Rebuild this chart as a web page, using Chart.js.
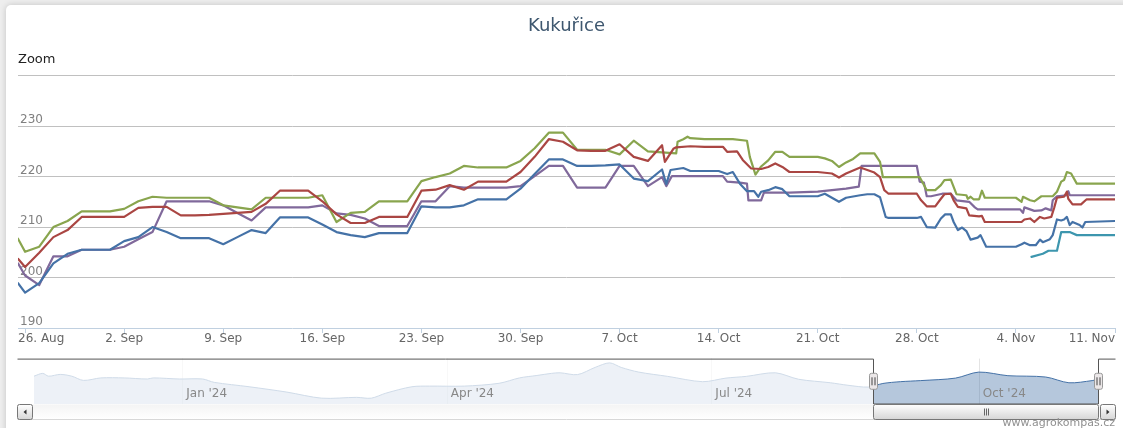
<!DOCTYPE html>
<html>
<head>
<meta charset="utf-8">
<title>Kukuřice</title>
<script src="https://cdn.jsdelivr.net/npm/chart.js@4.4.1/dist/chart.umd.min.js"></script>
<style>
  html, body { margin: 0; padding: 0; }
  body { width: 1123px; height: 428px; position: relative; overflow: hidden; background: #eeeeee; }
  #card { position: absolute; left: 6px; top: 5px; width: 1140px; height: 440px; background: #fff;
          border-radius: 5px; box-shadow: 0 0 6px rgba(0,0,0,0.18); }
  canvas { position: absolute; left: 0; }
  #mainChart { top: 0; }
  #navChart { top: 350px; }
</style>
</head>
<body>
<div id="card"></div>
<canvas id="mainChart" width="1123" height="350"></canvas>
<canvas id="navChart" width="1123" height="78"></canvas>
<script>
// x values are days counted from 26 Aug 2024
const tickDays = [0, 7, 14, 21, 28, 35, 42, 49, 56, 63, 70, 77];
const tickLabels = ['26. Aug', '2. Sep', '9. Sep', '16. Sep', '23. Sep', '30. Sep',
                    '7. Oct', '14. Oct', '21. Oct', '28. Oct', '4. Nov', '11. Nov'];
const zoomRange = [-0.5, 77];

const blueSeries = [[-0.5,198.9],[0,197.0],[1,198.9],[2,202.8],[3,204.7],[4,205.5],[5,205.5],[6,205.5],[7,207.2],[8,208.0],[9,210.0],[10,209.0],[11,207.8],[12,207.8],[13,207.8],[14,206.6],[15,208.0],[16,209.4],[17,208.8],[18,211.9],[19,211.9],[20,211.9],[21,210.5],[22,209.0],[23,208.4],[24,208.0],[25,208.8],[26,208.8],[27,208.8],[28,214.1],[29,213.9],[30,213.9],[31,214.3],[32,215.5],[33,215.5],[34,215.5],[35,217.6],[36,220.5],[37,223.4],[38,223.4],[39,222.1],[40,222.1],[41,222.2],[42,222.4],[43,219.6],[44,219.1],[45,221.4],[45.3,218.5],[45.6,221.3],[46.5,221.7],[47,221.1],[48,221.1],[49,221.1],[49.6,220.5],[50,220.9],[50.5,218.6],[51,217.1],[51.5,217.1],[51.8,216.0],[52,217.0],[52.5,217.3],[53,217.9],[53.5,217.5],[54,216.1],[55,216.1],[56,216.1],[56.5,216.6],[57,215.8],[57.5,215.0],[58,215.8],[59,216.3],[59.5,216.5],[60,216.5],[60.4,215.9],[60.8,212.0],[61,211.8],[62,211.8],[63,211.8],[63.3,212.0],[63.7,210.0],[64.3,209.9],[64.7,211.7],[65,212.5],[65.4,212.5],[65.6,211.0],[65.9,209.4],[66.2,209.9],[66.5,209.2],[66.8,207.5],[67.3,207.9],[67.5,208.4],[67.9,206.1],[70,206.1],[70.4,206.6],[70.6,206.9],[71,206.4],[71.4,206.4],[71.7,207.5],[71.9,207.0],[72.4,207.6],[72.6,208.4],[72.9,211.5],[73.2,211.3],[73.4,211.5],[73.6,212.0],[73.8,210.4],[74,211.0],[74.5,210.4],[74.7,209.9],[74.9,211.0],[77,211.2]];

const redSeries = [[-0.5,203.7],[0,202.1],[1,204.9],[2,208.0],[3,209.4],[4,212.0],[5,212.0],[6,212.0],[7,212.0],[8,213.8],[9,214.0],[10,214.0],[11,212.3],[12,212.3],[13,212.4],[14,212.6],[15,212.8],[16,213.0],[17,214.6],[18,217.2],[19,217.2],[20,217.2],[21,215.1],[22,212.5],[23,210.8],[24,210.8],[25,212.0],[26,212.0],[27,212.0],[28,217.2],[29,217.4],[30,218.3],[31,217.4],[32,219.0],[33,219.0],[34,219.0],[35,220.9],[36,223.9],[37,227.4],[38,226.9],[39,225.2],[40,225.1],[41,225.1],[42,226.4],[43,223.9],[44,223.1],[45,226.2],[45.2,222.9],[45.8,225.5],[46,225.8],[47,226.0],[48,225.9],[49.3,225.9],[49.6,224.9],[50.3,225.0],[50.7,223.3],[51.3,221.6],[52,221.5],[52.5,221.9],[53,222.6],[53.5,221.9],[54,220.9],[55,220.9],[56,220.9],[57,220.6],[57.5,219.8],[58,220.6],[59,221.8],[59.5,221.3],[60,220.8],[60.4,219.9],[60.7,217.3],[61,216.6],[62,216.6],[63,216.6],[63.3,215.3],[63.7,214.1],[64.3,214.1],[64.7,215.6],[64.95,216.5],[65.4,216.6],[65.6,215.3],[65.9,214.0],[66.5,213.7],[66.7,212.3],[67.4,212.1],[67.6,212.2],[67.8,211.0],[70.4,211.0],[70.6,211.5],[71,211.7],[71.3,211.0],[71.7,212.0],[72,211.7],[72.5,212.0],[72.7,213.8],[72.9,215.8],[73.4,216.0],[73.6,217.0],[73.7,215.6],[74,214.5],[74.6,214.5],[75,215.5],[77,215.5]];

const greenSeries = [[-0.5,207.7],[0,205.1],[1,206.1],[2,210.0],[3,211.2],[4,213.1],[5,213.1],[6,213.1],[7,213.6],[8,215.1],[9,216.0],[10,215.8],[11,215.8],[12,215.8],[13,215.8],[14,214.3],[15,213.9],[16,213.5],[17,215.8],[18,215.8],[19,215.8],[20,215.8],[21,216.3],[22,211.0],[23,212.8],[24,213.0],[25,215.1],[26,215.1],[27,215.1],[28,219.1],[29,219.9],[30,220.6],[31,222.1],[32,221.8],[33,221.8],[34,221.8],[35,223.1],[36,225.6],[37,228.7],[38,228.7],[39,225.3],[40,225.3],[41,225.3],[42,224.4],[43,227.1],[44,225.0],[45,224.8],[46,224.6],[46.1,226.9],[46.5,227.4],[46.8,227.9],[47,227.6],[48,227.4],[49,227.4],[50,227.4],[51,227.1],[51.2,223.9],[51.6,220.4],[52,222.0],[52.5,223.2],[53,224.9],[53.5,224.9],[54,223.9],[55,223.9],[56,223.9],[56.5,223.6],[57,223.1],[57.5,221.9],[58,222.8],[58.5,223.5],[59,224.6],[60,224.6],[60.4,222.9],[60.6,219.9],[61,219.9],[62,219.9],[63.2,219.9],[63.7,217.3],[64.3,217.3],[64.7,218.3],[64.95,219.3],[65.4,219.4],[65.8,216.5],[66.5,216.3],[66.6,215.6],[66.8,216.0],[67,215.5],[67.4,215.5],[67.6,217.2],[67.8,215.8],[70,215.8],[70.4,215.0],[70.5,216.0],[71,215.3],[71.3,215.1],[71.8,216.1],[72.6,216.1],[72.9,217.0],[73.2,219.0],[73.4,219.3],[73.6,220.9],[73.9,220.6],[74.3,218.6],[77,218.6]];

const purpleSeries = [[-0.5,202.8],[0,200.4],[1,198.5],[2,204.2],[3,204.2],[4,205.5],[5,205.5],[6,205.5],[7,206.1],[8,207.6],[9,209.0],[10,215.1],[11,215.1],[12,215.1],[13,215.1],[14,214.3],[15,212.8],[16,211.3],[17,213.9],[18,213.9],[19,213.9],[20,213.9],[21,214.3],[22,212.7],[23,212.4],[24,211.7],[25,210.2],[26,210.2],[27,210.2],[28,215.1],[29,215.1],[30,218.1],[31,217.8],[32,217.8],[33,217.8],[34,217.8],[35,218.1],[36,220.1],[37,222.1],[38,222.1],[39,217.8],[40,217.8],[41,217.8],[42,222.1],[43,222.1],[44,218.1],[45,219.9],[45.3,218.1],[45.7,220.1],[46,220.1],[47,220.1],[48,220.1],[49.3,220.1],[49.6,219.0],[50.5,218.8],[51,218.6],[51.1,215.3],[52,215.3],[52.2,216.8],[53,216.8],[54,216.8],[55,216.9],[56,217.0],[57,217.3],[58,217.6],[58.9,218.0],[59.1,222.1],[60,222.1],[61,222.1],[62,222.1],[63,222.1],[63.2,219.0],[63.5,218.8],[63.7,216.1],[64,216.1],[64.8,216.6],[65.4,216.6],[65.8,215.3],[66.7,215.0],[67.1,213.9],[67.3,213.5],[70.3,213.5],[70.5,212.8],[70.6,213.9],[71,213.5],[71.3,213.2],[71.8,213.3],[72.1,213.7],[72.5,213.3],[72.6,215.3],[72.9,216.1],[73.6,216.3],[73.7,217.1],[73.8,216.3],[77,216.3]];

const cyanSeries = [[71.1,204.1],[71.9,204.7],[72.3,205.3],[72.9,205.3],[73.2,209.0],[73.8,209.0],[74.3,208.4],[77,208.4]];

// navigator overview: Nov 2023 .. Nov 2024 (days from 26 Aug 2024)
const navSeries = [[-289,214.5],[-286,218.9],[-284,214.5],[-280,217.3],[-276,214.5],[-272,207.9],[-266,211.8],[-258,211.8],[-250,210.1],[-248,211.8],[-239,210.1],[-231,210.1],[-227,204.8],[-215,198.0],[-202,189.6],[-190,180.1],[-178,181.4],[-173,180.1],[-168,187.9],[-159,198.0],[-153,199.0],[-141,199.0],[-129,203.4],[-122,211.8],[-116,215.6],[-111,218.9],[-108,219.8],[-102,217.0],[-96,228.2],[-91,235.3],[-87,228.2],[-81,220.9],[-71,214.2],[-59,205.9],[-51,211.5],[-44,214.2],[-34,219.8],[-26,209.7],[-15,204.2],[-9,200.3],[-2,197.5],[3,203.1],[9,205.9],[16,207.6],[28,211.5],[36,220.9],[46,215.3],[59,213.2],[67,204.2],[75,207.6],[77,209.7]];
const navMonthDays = [-238, -147, -56, 36];
const navMonthLabels = ["Jan '24", "Apr '24", "Jul '24", "Oct '24"];

Chart.defaults.font.family = '"DejaVu Sans", Verdana, sans-serif';

function lineSet(data, color) {
  return {
    data: data,
    borderColor: color,
    borderWidth: 2.2,
    pointRadius: 0,
    tension: 0,
    fill: false,
    borderJoinStyle: 'round',
    borderCapStyle: 'round'
  };
}

const xLabels = {
  id: 'xLabels',
  afterDraw(chart) {
    const { ctx, chartArea } = chart;
    const x = chart.scales.x;
    ctx.save();
    ctx.font = '12px "DejaVu Sans"';
    ctx.fillStyle = '#666';
    ctx.textBaseline = 'middle';
    tickDays.forEach((d, i) => {
      const w = ctx.measureText(tickLabels[i]).width;
      let left = x.getPixelForValue(d) - w / 2;
      left = Math.max(chartArea.left, Math.min(left, chartArea.right - w));
      ctx.fillText(tickLabels[i], left, chartArea.bottom + 10.5);
    });
    ctx.restore();
  }
};

new Chart(document.getElementById('mainChart'), {
  type: 'line',
  data: {
    datasets: [
      lineSet(blueSeries, '#4572A7'),
      lineSet(redSeries, '#AA4643'),
      lineSet(greenSeries, '#89A54E'),
      lineSet(purpleSeries, '#80699B'),
      lineSet(cyanSeries, '#3D96AE')
    ]
  },
  options: {
    responsive: false,
    animation: false,
    layout: { padding: { left: 18, right: 8, top: 0, bottom: 0 } },
    plugins: {
      legend: { display: false },
      tooltip: { enabled: false },
      title: {
        display: true, text: 'Kukuřice', color: '#3E576F',
        font: { size: 18, weight: 'normal' },
        padding: { top: 16, bottom: 8 }
      },
      subtitle: {
        display: true, text: 'Zoom', align: 'start', color: '#222',
        font: { size: 13, weight: 'normal' },
        padding: { top: 6, bottom: 8.4 }
      }
    },
    scales: {
      x: {
        type: 'linear',
        min: zoomRange[0],
        max: zoomRange[1],
        afterBuildTicks: s => { s.ticks = tickDays.map(v => ({ value: v })); },
        afterFit: s => { s.height = 22; },
        grid: { drawOnChartArea: false, drawTicks: true, tickLength: 5, color: '#C0D0E0' },
        border: { color: '#C0D0E0' },
        ticks: { display: false }
      },
      y: {
        min: 190,
        max: 240,
        afterFit: s => { s.width = 0; },
        ticks: {
          stepSize: 10, mirror: true, padding: 2, labelOffset: -6,
          color: '#808080', font: { size: 12 },
          callback: v => (v === 240 ? '' : v)
        },
        grid: {
          drawTicks: false,
          color: c => (c.tick && c.tick.value === 190 ? 'rgba(0,0,0,0)' : '#C0C0C0')
        },
        border: { display: false }
      }
    }
  },
  plugins: [xLabels]
});

function roundRect(ctx, x, y, w, h, r) {
  ctx.beginPath();
  ctx.moveTo(x + r, y);
  ctx.arcTo(x + w, y, x + w, y + h, r);
  ctx.arcTo(x + w, y + h, x, y + h, r);
  ctx.arcTo(x, y + h, x, y, r);
  ctx.arcTo(x, y, x + w, y, r);
  ctx.closePath();
}

const navDecor = {
  id: 'navDecor',
  beforeDatasetsDraw(chart) {
    const { ctx, chartArea } = chart;
    const x = chart.scales.x;
    ctx.save();
    ctx.strokeStyle = '#e4e4e4';
    ctx.lineWidth = 1;
    navMonthDays.forEach(d => {
      const px = Math.round(x.getPixelForValue(d)) + 0.5;
      ctx.beginPath();
      ctx.moveTo(px, chartArea.top);
      ctx.lineTo(px, chartArea.bottom);
      ctx.stroke();
    });
    ctx.restore();
  },
  afterDatasetsDraw(chart) {
    const { ctx, chartArea } = chart;
    const x = chart.scales.x;
    const top = chartArea.top, bottom = chartArea.bottom;
    const x0 = Math.round(x.getPixelForValue(zoomRange[0])) + 0.5;
    const x1 = Math.round(x.getPixelForValue(zoomRange[1])) + 0.5;
    const left = 17.5, right = 1115.5;
    ctx.save();

    // mask outside the zoomed range
    ctx.fillStyle = 'rgba(255,255,255,0.75)';
    ctx.fillRect(chartArea.left, top, x0 - chartArea.left, bottom - top);
    if (x1 < chartArea.right) ctx.fillRect(x1, top, chartArea.right - x1, bottom - top);

    // month labels
    ctx.font = '12px "DejaVu Sans"';
    ctx.fillStyle = '#888';
    ctx.textBaseline = 'alphabetic';
    navMonthDays.forEach((d, i) => {
      ctx.fillText(navMonthLabels[i], x.getPixelForValue(d) + 4, bottom - 7);
    });

    // outline
    ctx.strokeStyle = '#555';
    ctx.lineWidth = 1;
    ctx.beginPath();
    ctx.moveTo(left, top + 0.5);
    ctx.lineTo(x0, top + 0.5);
    ctx.lineTo(x0, bottom);
    ctx.lineTo(x1, bottom);
    ctx.lineTo(x1, top + 0.5);
    ctx.lineTo(right, top + 0.5);
    ctx.stroke();

    // scrollbar track
    const sy = bottom + 0.5, sh = 15;
    const trackGrad = ctx.createLinearGradient(0, sy, 0, sy + sh);
    trackGrad.addColorStop(0, '#f4f4f4');
    trackGrad.addColorStop(1, '#ffffff');
    ctx.fillStyle = trackGrad;
    ctx.fillRect(left, sy, right - left, sh);
    ctx.strokeStyle = '#d8d8d8';
    ctx.beginPath();
    ctx.moveTo(left, sy + sh);
    ctx.lineTo(right, sy + sh);
    ctx.stroke();

    const btnGrad = ctx.createLinearGradient(0, sy, 0, sy + sh);
    btnGrad.addColorStop(0, '#ffffff');
    btnGrad.addColorStop(1, '#d6d6d6');

    // thumb
    ctx.fillStyle = btnGrad;
    roundRect(ctx, x0, sy, x1 - x0, sh, 2);
    ctx.fill();
    ctx.strokeStyle = '#777';
    ctx.stroke();
    const gx = Math.round((x0 + x1) / 2) + 0.5;
    ctx.strokeStyle = '#666';
    ctx.beginPath();
    for (let k = -2; k <= 2; k += 2) {
      ctx.moveTo(gx + k, sy + 4);
      ctx.lineTo(gx + k, sy + sh - 4);
    }
    ctx.stroke();

    // arrow buttons
    [[left, -1], [right - 15, 1]].forEach(([bx, dir]) => {
      ctx.fillStyle = btnGrad;
      roundRect(ctx, bx, sy, 15, sh, 2);
      ctx.fill();
      ctx.strokeStyle = '#777';
      ctx.stroke();
      const cx = bx + 7.5, cy = sy + sh / 2;
      ctx.fillStyle = '#333';
      ctx.beginPath();
      ctx.moveTo(cx + 1.5 * dir, cy);
      ctx.lineTo(cx - 1.5 * dir, cy - 2.5);
      ctx.lineTo(cx - 1.5 * dir, cy + 2.5);
      ctx.closePath();
      ctx.fill();
    });

    // handles
    [x0, x1].forEach(hx => {
      const hy = (top + bottom) / 2;
      ctx.fillStyle = '#ebe7e8';
      ctx.strokeStyle = '#999';
      roundRect(ctx, hx - 4, hy - 8, 8, 16, 2);
      ctx.fill();
      ctx.stroke();
      ctx.strokeStyle = '#444';
      ctx.beginPath();
      ctx.moveTo(hx - 1.5, hy - 4); ctx.lineTo(hx - 1.5, hy + 4);
      ctx.moveTo(hx + 1.5, hy - 4); ctx.lineTo(hx + 1.5, hy + 4);
      ctx.stroke();
    });

    // credits
    ctx.font = '11px "DejaVu Sans"';
    ctx.fillStyle = '#909090';
    ctx.textAlign = 'right';
    ctx.textBaseline = 'alphabetic';
    ctx.fillText('www.agrokompas.cz', 1115, 76);
    ctx.restore();
  }
};

new Chart(document.getElementById('navChart'), {
  type: 'line',
  data: {
    datasets: [{
      data: navSeries,
      borderColor: '#4572A7',
      borderWidth: 1,
      backgroundColor: 'rgba(69,114,167,0.4)',
      fill: 'start',
      pointRadius: 0,
      tension: 0.3
    }]
  },
  options: {
    responsive: false,
    animation: false,
    layout: { padding: { left: 34, right: 25, top: 8.6, bottom: 24 } },
    plugins: { legend: { display: false }, tooltip: { enabled: false } },
    scales: {
      x: { type: 'linear', display: false, min: -289, max: 77 },
      y: { display: false, min: 171, max: 242 }
    }
  },
  plugins: [navDecor]
});
</script>
</body>
</html>
